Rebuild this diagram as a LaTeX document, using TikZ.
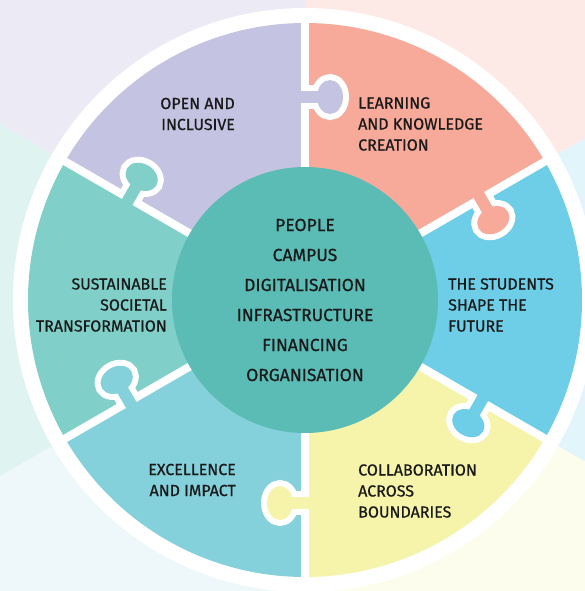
\documentclass[tikz,border=0pt]{standalone}
\usepackage{fontspec}
\setmainfont{Fira Sans}[FakeBold=0.7]
\usepackage{tikz}
\usetikzlibrary{positioning}
\definecolor{lilac}{HTML}{C5C3E2}
\definecolor{salmon}{HTML}{F7AA9A}
\definecolor{sky}{HTML}{6ECDE7}
\definecolor{lemon}{HTML}{F6F4AB}
\definecolor{aqua}{HTML}{84D0DB}
\definecolor{mint}{HTML}{80CFC8}
\definecolor{hubteal}{HTML}{5BBCB6}
\definecolor{ink}{HTML}{1A1A1A}
\tikzstyle{seam}=[draw=white, line width=8pt]
\tikzstyle{rim}=[draw=white, line width=12pt]
\tikzstyle{piecetext}=[text=ink, font=\fontsize{16}{21}\selectfont,
                inner sep=0pt]
\tikzstyle{hubtext}=[text=ink, font=\fontsize{17.5}{30}\selectfont,
                align=center]
\newcommand{\puzzleknob}[2]{%
  \begin{scope}[rotate=#1]
    \begin{scope}
      \clip (150,0) rectangle (260,-60);
      \draw[rim] (197,6) rectangle (209,-14);
      \draw[rim] (203,-25) ellipse [x radius=17, y radius=13];
    \end{scope}
    \fill[#2] (197,6) rectangle (209,-14);
    \fill[#2] (203,-25) ellipse [x radius=17, y radius=13];
  \end{scope}}

\begin{document}
\begin{tikzpicture}[x=1pt, y=1pt]
  \path[use as bounding box] (-305,-291) rectangle (280,300);
  \clip (-305,-291) rectangle (280,300);
  % background tints and the white disc
  \foreach \a/\c/\p in {90/lilac/35, 30/salmon/25, -30/sky/20, -90/lemon/22, -150/aqua/14, 150/mint/25}
    \fill[\c!\p] (0,0) -- (\a:700) arc[start angle=\a, end angle=\a+60, radius=700] -- cycle;
  \fill[white] (0,0) circle (292);
  % puzzle pieces
  \foreach \a/\c in {90/lilac, 30/salmon, -30/sky, -90/lemon, -150/aqua, 150/mint}
    \fill[\c] (0,0) -- (\a:277) arc[start angle=\a, end angle=\a+60, radius=277] -- cycle;
  \foreach \a in {90, 30, -30, -90, -150, 150}
    \draw[seam] (0,0) -- (\a:285);
  \foreach \a/\c in {90/lilac, 30/salmon, -30/sky, -90/lemon, -150/aqua, 150/mint}
    \puzzleknob{\a}{\c};
  \node[circle, fill=hubteal, minimum size=266pt, inner sep=0pt, hubtext] (hub) at (0,0)
    {PEOPLE\\CAMPUS\\DIGITALISATION\\INFRASTRUCTURE\\FINANCING\\ORGANISATION};
  \node[piecetext, anchor=east, align=right] (open) at (-70,186) {OPEN AND\\INCLUSIVE};
  \node[piecetext, anchor=west, align=left] (learn) at (53,176) {LEARNING\\AND KNOWLEDGE\\CREATION};
  \node[piecetext, anchor=west, align=left] (students) at (143,-5) {THE STUDENTS\\SHAPE THE\\FUTURE};
  \node[piecetext, anchor=west, align=left] (collab) at (53,-191) {COLLABORATION\\ACROSS\\BOUNDARIES};
  \node[piecetext, anchor=east, align=right] (excel) at (-69,-180) {EXCELLENCE\\AND IMPACT};
  \node[piecetext, anchor=east, align=right] (sustain) at (-138,-5) {SUSTAINABLE\\SOCIETAL\\TRANSFORMATION};
\end{tikzpicture}
\end{document}
